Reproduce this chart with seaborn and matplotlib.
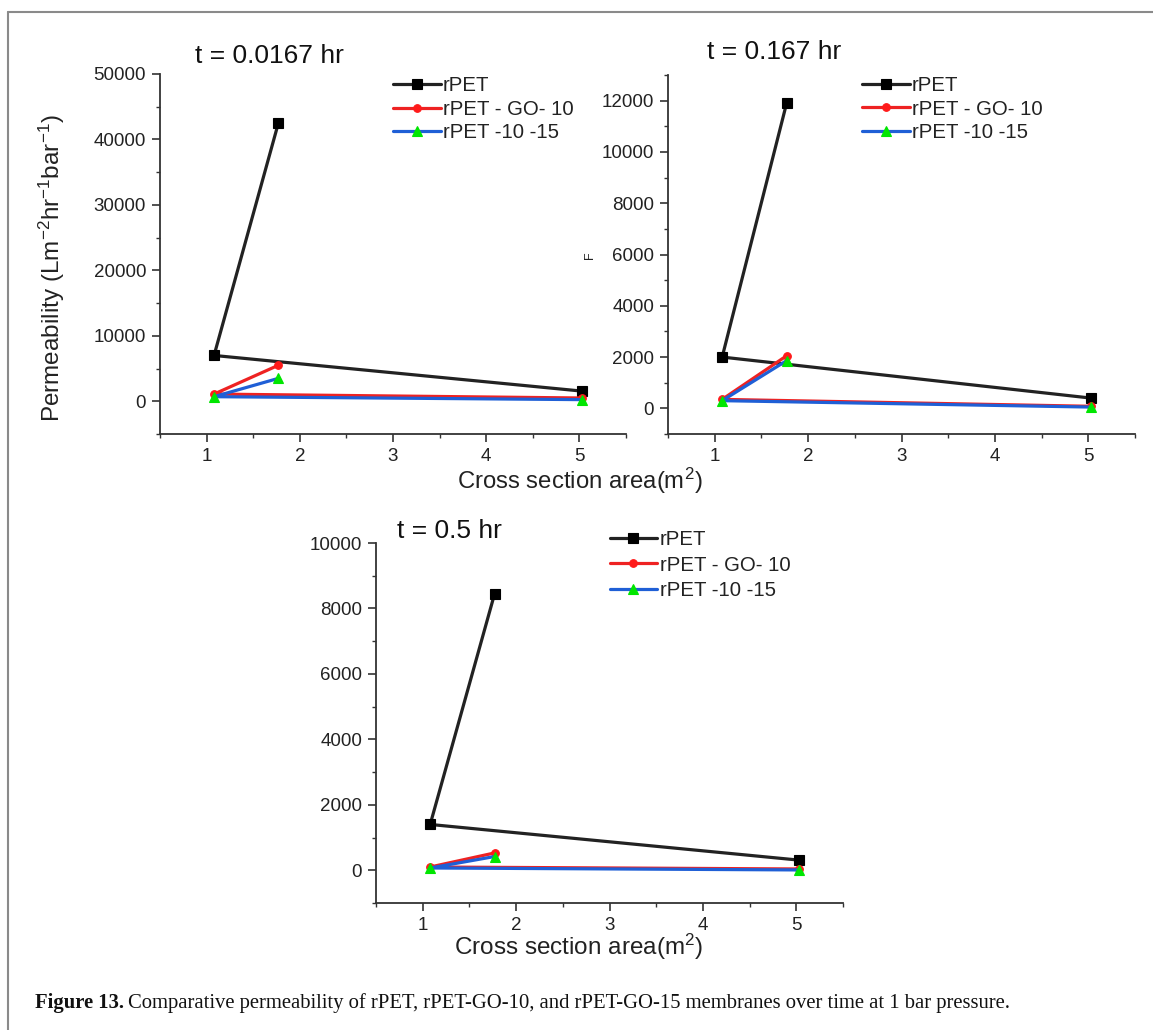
import pandas as pd
import seaborn as sns
import matplotlib.pyplot as plt
from matplotlib.lines import Line2D
from matplotlib.ticker import MultipleLocator

# cross-section area (m^2), in the order the points are joined
area = [1.77, 1.08, 5.03]

series = ['rPET', 'rPET - GO- 10', 'rPET -10 -15']
colors = ['#222222', '#ee2222', '#1f5fd6']
marker_faces = ['#000000', '#ff1a1a', '#00e600']
markers = ['s', 'o', '^']

# t = 0.0167 hr
rpet_t1 = [42500, 7000, 1550]
go10_t1 = [5500, 1100, 500]
go15_t1 = [3500, 700, 250]

# t = 0.167 hr
rpet_t2 = [11900, 2000, 400]
go10_t2 = [2050, 350, 80]
go15_t2 = [1860, 300, 50]

# t = 0.5 hr
rpet_t3 = [8450, 1400, 310]
go10_t3 = [530, 100, 40]
go15_t3 = [420, 70, 10]

titles = ['t = 0.0167 hr', 't = 0.167 hr', 't = 0.5 hr']
y_limits = [(-5000, 50000), (-1000, 13000), (-1000, 10000)]
y_major = [10000, 2000, 2000]
y_minor = [5000, 1000, 1000]

sns.set_style('ticks')
plt.rcParams['font.family'] = ['Liberation Sans', 'DejaVu Sans']
plt.rcParams['mathtext.default'] = 'regular'

W, H = 1153, 1030
fig = plt.figure(figsize=(W / 100, H / 100), dpi=100)


def px_axes(left, top, right, bottom):
    return fig.add_axes([left / W, 1 - bottom / H, (right - left) / W, (bottom - top) / H])


axes = [
    px_axes(160, 74, 626, 434),
    px_axes(668, 75, 1135, 434),
    px_axes(376, 543, 843, 903),
]

panel_data = [
    [rpet_t1, go10_t1, go15_t1],
    [rpet_t2, go10_t2, go15_t2],
    [rpet_t3, go10_t3, go15_t3],
]

title_pos = [(0.075, 1.05), (0.084, 1.064), (0.045, 1.034)]
legend_pos = [(0.50, 0.994), (0.415, 0.997), (0.50, 1.036)]
legend_spacing = [0.22, 0.22, 0.32]

for ax, values, title, ylim, ymaj, ymin, tpos, lpos, lsp in zip(
        axes, panel_data, titles, y_limits, y_major, y_minor,
        title_pos, legend_pos, legend_spacing):
    for name, vals, col, face, mk in zip(series, values, colors, marker_faces, markers):
        df = pd.DataFrame({'area': area, 'perm': vals})
        sns.lineplot(data=df, x='area', y='perm', sort=False, estimator=None,
                     color=col, lw=2.3, marker=mk, markersize=6.5 if mk != 'o' else 5.5,
                     markerfacecolor=face, markeredgecolor=face, markeredgewidth=0.8,
                     label=name, ax=ax)

    ax.set_xlim(0.5, 5.5)
    ax.set_ylim(*ylim)
    ax.xaxis.set_major_locator(MultipleLocator(1))
    ax.xaxis.set_minor_locator(MultipleLocator(0.5))
    ax.yaxis.set_major_locator(MultipleLocator(ymaj))
    ax.yaxis.set_minor_locator(MultipleLocator(ymin))
    ax.set_xticks([1, 2, 3, 4, 5])
    ax.set_yticks(range(0, ylim[1] + 1, ymaj))
    ax.set_xlabel('')
    ax.set_ylabel('')
    sns.despine(ax=ax)
    for s in ['left', 'bottom']:
        ax.spines[s].set_linewidth(1.3)
        ax.spines[s].set_color('#333333')
    ax.tick_params(which='major', direction='out', length=5.5, width=1.2,
                   color='#333333', labelsize=13.5, labelcolor='#222222', pad=4.5)
    ax.tick_params(which='minor', direction='out', length=3, width=1.0, color='#333333')

    ax.text(tpos[0], tpos[1], title, transform=ax.transAxes, fontsize=19,
            color='#111111', ha='left', va='center')

    leg = ax.legend(loc='upper left', bbox_to_anchor=lpos, frameon=False,
                    borderpad=0, borderaxespad=0, handlelength=2.35,
                    handletextpad=0.1, labelspacing=lsp, fontsize=14.7)
    for t in leg.get_texts():
        t.set_color('#222222')

# axis labels placed where they sit in the source figure
fig.text(52 / W, 1 - 268 / H,
         'Permeability (Lm$^{-2}$hr$^{-1}$bar$^{-1}$)',
         rotation=90, ha='center', va='center', fontsize=17.5, color='#222222')
fig.text(590 / W, 1 - 255 / H, 'F', rotation=90, ha='center', va='center',
         fontsize=9, color='#222222')
fig.text(580 / W, 1 - 481 / H, 'Cross section area(m$^2$)',
         ha='center', va='center', fontsize=17.2, color='#222222')
fig.text(579 / W, 1 - 947 / H, 'Cross section area(m$^2$)',
         ha='center', va='center', fontsize=17.5, color='#222222')

# caption
fig.canvas.draw()
cap_y = 1 - 1003 / H
bold = fig.text(35 / W, cap_y, 'Figure 13.', fontsize=14.9, fontweight='bold',
                family='Liberation Serif', ha='left', va='center', color='#111111')
bb = bold.get_window_extent(renderer=fig.canvas.get_renderer())
fig.text((bb.x1 + 4) / W, cap_y,
         'Comparative permeability of rPET, rPET-GO-10, and rPET-GO-15 membranes '
         'over time at 1 bar pressure.',
         fontsize=14.9, family='Liberation Serif', ha='left', va='center', color='#111111')

# frame lines round the figure panel
fig.add_artist(Line2D([8 / W, 8 / W], [0, 1 - 12 / H], transform=fig.transFigure,
                      color='#8a8a8a', lw=1.5))
fig.add_artist(Line2D([8 / W, 1], [1 - 12 / H, 1 - 12 / H], transform=fig.transFigure,
                      color='#8a8a8a', lw=1.5))

fig.savefig('out.png', dpi=100)
